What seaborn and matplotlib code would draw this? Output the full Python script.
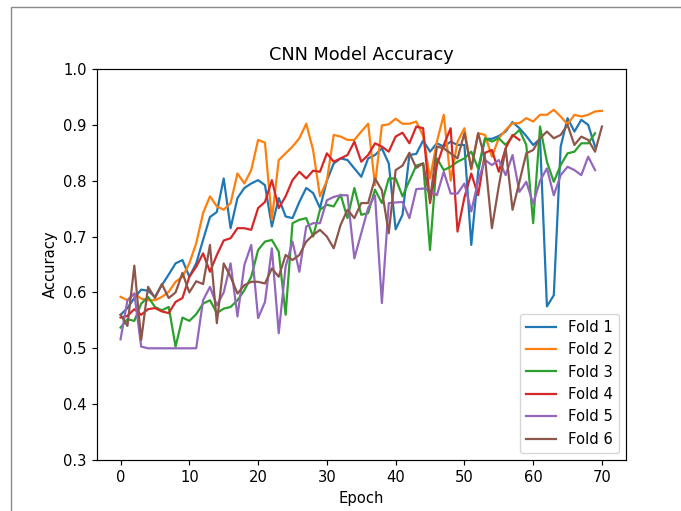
import numpy as np
import pandas as pd
import matplotlib
matplotlib.use("Agg")
import matplotlib.pyplot as plt
from matplotlib.patches import Rectangle
import seaborn as sns

fold_names = ["Fold 1", "Fold 2", "Fold 3", "Fold 4", "Fold 5", "Fold 6"]

fold1 = [0.56, 0.572, 0.59, 0.605, 0.603, 0.592, 0.613, 0.632, 0.652, 0.658,
         0.628, 0.652, 0.694, 0.735, 0.744, 0.804, 0.715, 0.769, 0.787, 0.795,
         0.801, 0.792, 0.718, 0.769, 0.736, 0.733, 0.762, 0.787, 0.778, 0.751,
         0.80, 0.831, 0.84, 0.837, 0.822, 0.807, 0.84, 0.846, 0.858, 0.831,
         0.713, 0.739, 0.846, 0.848, 0.872, 0.852, 0.867, 0.861, 0.87, 0.864,
         0.864, 0.685, 0.816, 0.875, 0.875, 0.88, 0.888, 0.905, 0.894, 0.88,
         0.864, 0.875, 0.575, 0.595, 0.861, 0.912, 0.888, 0.909, 0.90, 0.861]

fold2 = [0.592, 0.586, 0.598, 0.589, 0.586, 0.586, 0.592, 0.601, 0.619, 0.628,
         0.652, 0.688, 0.742, 0.772, 0.754, 0.748, 0.760, 0.813, 0.795, 0.819,
         0.873, 0.868, 0.730, 0.837, 0.849, 0.861, 0.876, 0.902, 0.855, 0.772,
         0.80, 0.882, 0.879, 0.873, 0.873, 0.888, 0.902, 0.792, 0.899, 0.901,
         0.911, 0.902, 0.902, 0.906, 0.88, 0.804, 0.87, 0.918, 0.80, 0.87,
         0.894, 0.82, 0.885, 0.882, 0.843, 0.876, 0.891, 0.903, 0.903, 0.912,
         0.906, 0.918, 0.918, 0.927, 0.915, 0.901, 0.918, 0.915, 0.918, 0.924,
         0.925]

fold3 = [0.537, 0.552, 0.549, 0.580, 0.592, 0.574, 0.568, 0.574, 0.503, 0.555,
         0.549, 0.561, 0.580, 0.586, 0.563, 0.571, 0.574, 0.586, 0.604, 0.628,
         0.676, 0.691, 0.694, 0.673, 0.560, 0.724, 0.730, 0.733, 0.700, 0.748,
         0.757, 0.754, 0.775, 0.733, 0.787, 0.739, 0.742, 0.784, 0.760, 0.804,
         0.804, 0.772, 0.80, 0.827, 0.831, 0.676, 0.84, 0.819, 0.825, 0.834,
         0.84, 0.852, 0.822, 0.876, 0.87, 0.876, 0.864, 0.879, 0.891, 0.864,
         0.724, 0.897, 0.834, 0.798, 0.828, 0.849, 0.852, 0.867, 0.867, 0.885]

fold4 = [0.555, 0.558, 0.57, 0.56, 0.57, 0.572, 0.566, 0.563, 0.583, 0.59,
         0.628, 0.646, 0.670, 0.637, 0.667, 0.693, 0.697, 0.715, 0.715, 0.712,
         0.751, 0.762, 0.801, 0.751, 0.772, 0.801, 0.816, 0.804, 0.818, 0.816,
         0.849, 0.834, 0.840, 0.846, 0.870, 0.834, 0.846, 0.867, 0.861, 0.852,
         0.879, 0.886, 0.867, 0.897, 0.894, 0.76, 0.828, 0.864, 0.894, 0.709,
         0.77, 0.813, 0.774, 0.85, 0.855, 0.816, 0.858, 0.882, 0.873]

fold5 = [0.516, 0.586, 0.598, 0.503, 0.50, 0.50, 0.50, 0.50, 0.50, 0.50,
         0.50, 0.50, 0.586, 0.610, 0.577, 0.60, 0.652, 0.557, 0.649, 0.685,
         0.554, 0.583, 0.679, 0.527, 0.646, 0.691, 0.637, 0.718, 0.724, 0.724,
         0.765, 0.771, 0.774, 0.774, 0.661, 0.706, 0.751, 0.774, 0.581, 0.760,
         0.761, 0.762, 0.733, 0.785, 0.786, 0.783, 0.774, 0.816, 0.777, 0.777,
         0.795, 0.745, 0.80, 0.837, 0.828, 0.837, 0.81, 0.846, 0.78, 0.798,
         0.759, 0.80, 0.822, 0.774, 0.81, 0.825, 0.819, 0.81, 0.843, 0.819]

fold6 = [0.56, 0.54, 0.648, 0.515, 0.61, 0.59, 0.615, 0.59, 0.60, 0.635,
         0.60, 0.62, 0.615, 0.685, 0.545, 0.652, 0.628, 0.598, 0.613, 0.619,
         0.619, 0.616, 0.643, 0.628, 0.667, 0.658, 0.667, 0.691, 0.703, 0.712,
         0.70, 0.679, 0.721, 0.748, 0.733, 0.760, 0.760, 0.804, 0.783, 0.706,
         0.819, 0.827, 0.85, 0.823, 0.831, 0.765, 0.861, 0.858, 0.849, 0.84,
         0.885, 0.822, 0.885, 0.84, 0.715, 0.79, 0.858, 0.748, 0.798, 0.849,
         0.855, 0.876, 0.888, 0.876, 0.882, 0.90, 0.864, 0.879, 0.873, 0.852,
         0.897]

folds = [fold1, fold2, fold3, fold4, fold5, fold6]

rows = []
for name, vals in zip(fold_names, folds):
    for ep, v in enumerate(vals):
        rows.append({"Epoch": ep, "Accuracy": v, "Fold": name})
df = pd.DataFrame(rows)

s = 1.063
plt.rcParams.update({
    "font.family": ["DejaVu Sans"],
    "font.size": 10 * s,
    "axes.linewidth": 0.8 * s,
    "xtick.major.width": 0.8 * s,
    "ytick.major.width": 0.8 * s,
    "xtick.major.size": 3.5 * s,
    "ytick.major.size": 3.5 * s,
})

fig = plt.figure(figsize=(6.81, 5.11), dpi=100)
ax = fig.add_axes([96.5 / 681, 1 - 460 / 511, (626 - 96.5) / 681, (460 - 69) / 511])

palette = sns.color_palette("tab10", 6)
sns.lineplot(data=df, x="Epoch", y="Accuracy", hue="Fold", palette=palette,
             linewidth=1.5 * s, ax=ax, estimator=None, sort=False)

ax.set_ylim(0.3, 1.0)
ax.set_xticks([0, 10, 20, 30, 40, 50, 60, 70])
ax.set_title("CNN Model Accuracy", fontsize=12 * s, pad=6 * s)
ax.set_xlabel("Epoch", fontsize=10 * s)
ax.set_ylabel("Accuracy", fontsize=10 * s)
ax.tick_params(labelsize=10 * s)

handles, labels = ax.get_legend_handles_labels()
ax.legend(handles, labels, loc="lower right", fontsize=10 * s)

# screenshot frame border
fig.add_artist(Rectangle((10.5 / 681, -0.1), 1.2, (1 - 7.5 / 511) + 0.1,
                         transform=fig.transFigure, fill=False,
                         edgecolor="#8a8a8a", linewidth=1.0, clip_on=False))

fig.savefig("out.png", dpi=100)
